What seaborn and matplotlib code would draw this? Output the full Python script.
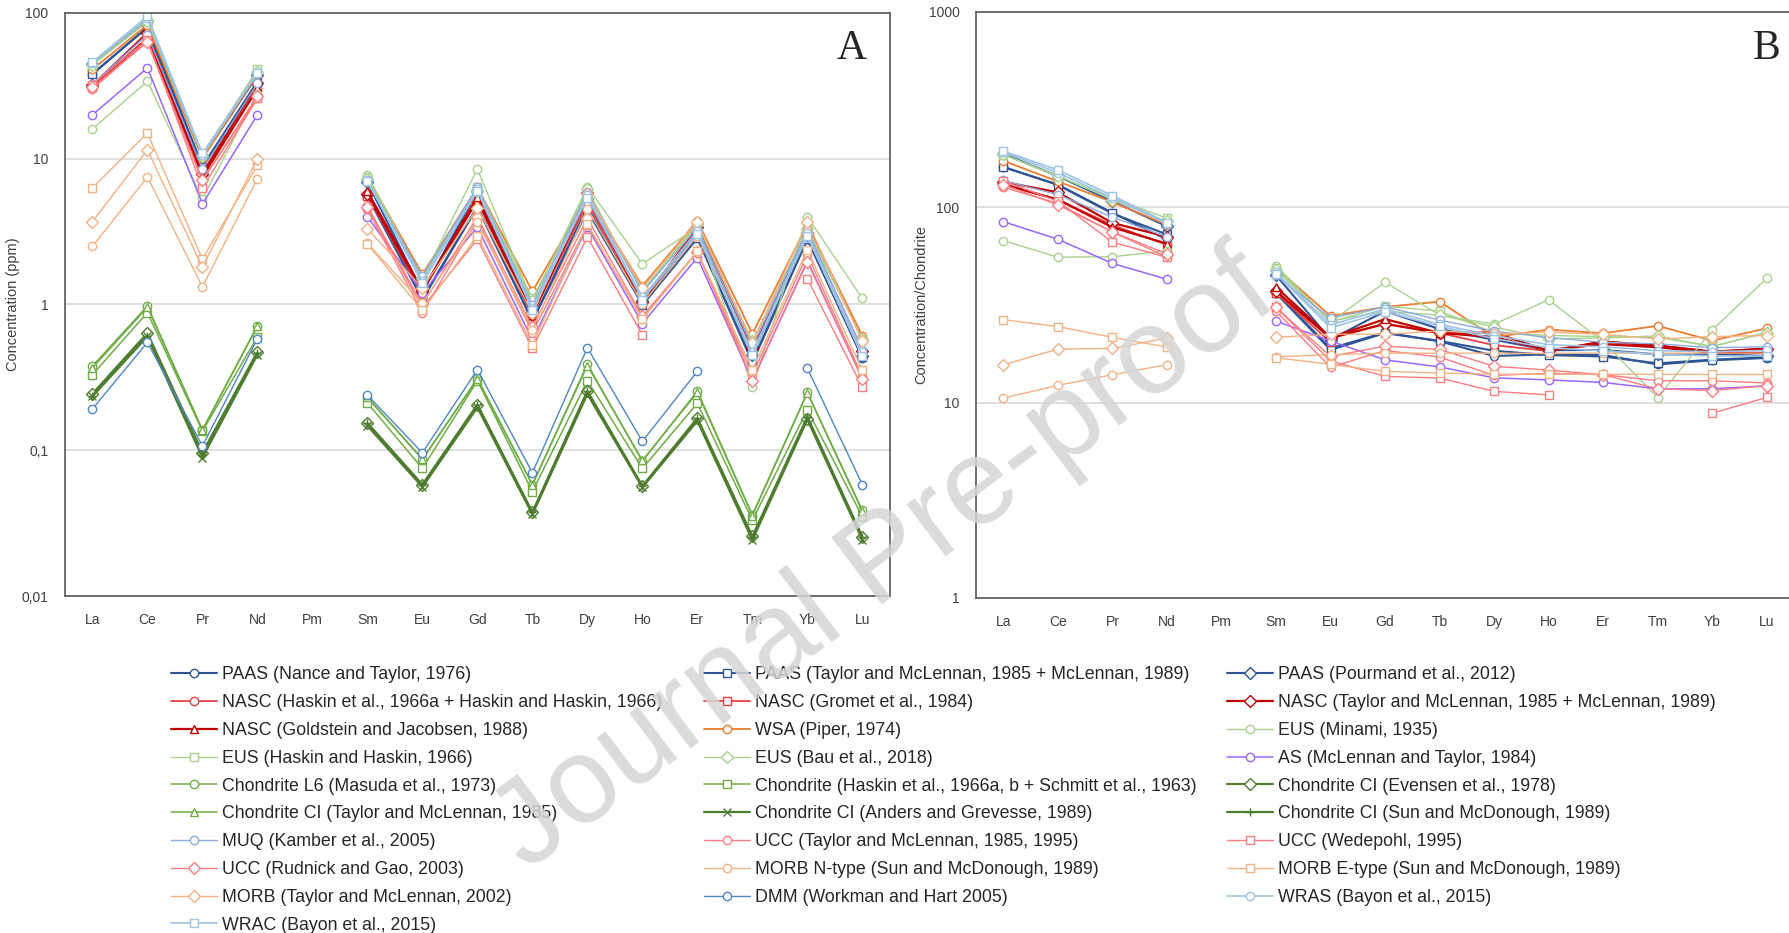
import numpy as np
import pandas as pd
import matplotlib
matplotlib.use('Agg')
import matplotlib.pyplot as plt
from matplotlib.lines import Line2D
from matplotlib.ticker import NullLocator
import seaborn as sns

sns.set_style('white')
plt.rcParams['font.family'] = ['Liberation Sans', 'DejaVu Sans']

n = np.nan
elements = ['La', 'Ce', 'Pr', 'Nd', 'Pm', 'Sm', 'Eu', 'Gd', 'Tb', 'Dy', 'Ho', 'Er', 'Tm', 'Yb', 'Lu']

# concentrations in ppm
paas_nt76 = [38, 80, 8.9, 32, n, 5.6, 1.1, 4.7, 0.77, 4.4, 1.0, 2.9, 0.40, 2.8, 0.43]
paas_tm85 = [38.2, 79.6, 8.83, 33.9, n, 5.55, 1.08, 4.66, 0.774, 4.68, 0.991, 2.85, 0.405, 2.82, 0.433]
paas_p12 = [44.6, 88.3, 10.2, 37.3, n, 6.88, 1.22, 6.04, 0.89, 5.33, 1.05, 3.08, 0.45, 3.01, 0.44]
nasc_h66 = [31, 67, 7.7, 30, n, 5.6, 1.25, 5.2, 0.85, 5.0, 1.04, 3.4, 0.50, 3.1, 0.48]
nasc_g84 = [31.1, 66.7, n, 27.4, n, 5.59, 1.18, n, 0.85, n, n, n, n, 3.06, 0.456]
nasc_tm85 = [32, 73, 7.9, 33, n, 5.7, 1.24, 5.2, 0.85, 5.8, 1.04, 3.4, 0.50, 3.1, 0.48]
nasc_gj88 = [31.1, 67.0, 7.5, 30.4, n, 5.98, 1.25, 5.5, 0.85, 5.5, 1.05, 3.3, 0.49, 3.06, 0.456]
wsa_p74 = [41, 83, 10.1, 38, n, 7.5, 1.61, 6.35, 1.23, 5.5, 1.34, 3.75, 0.63, 3.53, 0.61]
eus_m35 = [16, 34, 5.3, 28, n, 7.7, 1.5, 8.5, 1.05, 6.4, 1.9, 3.4, 0.27, 4.0, 1.1]
eus_hh66 = [44, 88, 10.6, 41, n, 7.5, 1.5, 6.4, 1.1, 5.8, 1.25, 3.6, 0.55, 3.3, 0.58]
eus_b18 = [44.3, 88.5, 10.4, 39.5, n, 7.3, 1.52, 6.03, 1.05, 6.2, 1.2, 3.55, 0.56, 3.29, 0.58]
as_mt84 = [20, 42, 4.9, 20, n, 4.0, 1.2, 3.4, 0.57, 3.4, 0.74, 2.1, 0.30, 2.0, 0.31]
ch_masuda = [0.378, 0.976, 0.138, 0.716, n, 0.230, 0.0866, 0.311, 0.058, 0.390, 0.084, 0.255, 0.036, 0.249, 0.0387]
ch_haskin = [0.330, 0.88, 0.135, 0.60, n, 0.211, 0.075, 0.30, 0.052, 0.30, 0.075, 0.21, 0.033, 0.19, 0.035]
ch_evensen = [0.2446, 0.6379, 0.0964, 0.4738, n, 0.154, 0.058, 0.2043, 0.0375, 0.2541, 0.0567, 0.166, 0.0256, 0.1651, 0.0254]
ch_tm85 = [0.367, 0.957, 0.137, 0.711, n, 0.231, 0.087, 0.306, 0.058, 0.381, 0.0851, 0.249, 0.0356, 0.248, 0.0381]
ch_ag89 = [0.2347, 0.6032, 0.0891, 0.4524, n, 0.1471, 0.056, 0.1966, 0.0363, 0.2427, 0.0556, 0.1589, 0.0242, 0.1625, 0.0243]
ch_sm89 = [0.237, 0.612, 0.095, 0.467, n, 0.153, 0.058, 0.2055, 0.0374, 0.254, 0.0566, 0.1655, 0.0255, 0.170, 0.0254]
muq_k05 = [32.5, 71.1, 8.46, 32.9, n, 6.88, 1.57, 6.36, 0.99, 5.89, 1.22, 3.37, 0.51, 3.25, 0.49]
ucc_tm85 = [30, 64, 7.1, 26, n, 4.5, 0.88, 3.8, 0.64, 3.5, 0.80, 2.3, 0.33, 2.2, 0.32]
ucc_w95 = [32.3, 65.7, 6.3, 25.9, n, 4.7, 0.95, 2.8, 0.50, 2.9, 0.62, n, n, 1.5, 0.27]
ucc_rg03 = [31, 63, 7.1, 27, n, 4.7, 1.0, 4.0, 0.7, 3.9, 0.83, 2.3, 0.30, 1.96, 0.31]
morb_n = [2.5, 7.5, 1.32, 7.3, n, 2.63, 1.02, 3.68, 0.67, 4.55, 1.01, 2.97, 0.456, 3.05, 0.455]
morb_e = [6.3, 15, 2.05, 9.0, n, 2.6, 0.91, 2.97, 0.53, 3.55, 0.79, 2.31, 0.356, 2.37, 0.354]
morb_tm02 = [3.7, 11.5, 1.8, 10, n, 3.3, 1.3, 4.6, 0.87, 5.7, 1.3, 3.7, 0.54, 3.7, 0.56]
dmm_wh05 = [0.192, 0.550, 0.107, 0.581, n, 0.239, 0.096, 0.358, 0.070, 0.505, 0.115, 0.348, n, 0.365, 0.058]
wras_b15 = [45.5, 92, 10.6, 38.5, n, 7.1, 1.45, 6.2, 0.94, 5.6, 1.12, 3.2, 0.47, 3.1, 0.47]
wrac_b15 = [46, 95, 10.9, 39, n, 7.0, 1.4, 6.0, 0.92, 5.4, 1.08, 3.05, 0.45, 2.95, 0.44]

names = [
    'PAAS (Nance and Taylor, 1976)',
    'PAAS (Taylor and McLennan, 1985 + McLennan, 1989)',
    'PAAS (Pourmand et al., 2012)',
    'NASC (Haskin et al., 1966a + Haskin and Haskin, 1966)',
    'NASC (Gromet et al., 1984)',
    'NASC (Taylor and McLennan, 1985 + McLennan, 1989)',
    'NASC (Goldstein and Jacobsen, 1988)',
    'WSA (Piper, 1974)',
    'EUS (Minami, 1935)',
    'EUS (Haskin and Haskin, 1966)',
    'EUS (Bau et al., 2018)',
    'AS (McLennan and Taylor, 1984)',
    'Chondrite L6 (Masuda et al., 1973)',
    'Chondrite (Haskin et al., 1966a, b + Schmitt et al., 1963)',
    'Chondrite CI (Evensen et al., 1978)',
    'Chondrite CI (Taylor and McLennan, 1985)',
    'Chondrite CI (Anders and Grevesse, 1989)',
    'Chondrite CI (Sun and McDonough, 1989)',
    'MUQ (Kamber et al., 2005)',
    'UCC (Taylor and McLennan, 1985, 1995)',
    'UCC (Wedepohl, 1995)',
    'UCC (Rudnick and Gao, 2003)',
    'MORB N-type (Sun and McDonough, 1989)',
    'MORB E-type (Sun and McDonough, 1989)',
    'MORB (Taylor and McLennan, 2002)',
    'DMM (Workman and Hart 2005)',
    'WRAS (Bayon et al., 2015)',
    'WRAC (Bayon et al., 2015)',
]
values = [paas_nt76, paas_tm85, paas_p12, nasc_h66, nasc_g84, nasc_tm85, nasc_gj88,
          wsa_p74, eus_m35, eus_hh66, eus_b18, as_mt84, ch_masuda, ch_haskin,
          ch_evensen, ch_tm85, ch_ag89, ch_sm89, muq_k05, ucc_tm85, ucc_w95,
          ucc_rg03, morb_n, morb_e, morb_tm02, dmm_wh05, wras_b15, wrac_b15]

blue, red, dred, orange = '#2F5597', '#E8403F', '#C00000', '#ED7D31'
lgreen, green, dgreen = '#A9D18E', '#70AD47', '#4E7D30'
purple, muq, pink, peach = '#9966FF', '#8FAADC', '#FF7C80', '#F4B183'
dmm, lblue = '#4F86C6', '#9DC3E6'
colors = [blue, blue, blue, red, red, dred, dred, orange, lgreen, lgreen, lgreen, purple,
          green, green, dgreen, green, dgreen, dgreen, muq, pink, pink, pink,
          peach, peach, peach, dmm, lblue, lblue]
markers = ['o', 's', 'D', 'o', 's', 'D', '^', 'o', 'o', 's', 'D', 'o',
           'o', 's', 'D', '^', 'x', '+', 'o', 'o', 's', 'D',
           'o', 's', 'D', 'o', 'o', 's']
widths = [1.5, 1.5, 1.5, 1.3, 1.3, 1.6, 1.6, 1.3, 1.0, 1.0, 1.0, 1.1,
          1.1, 1.1, 1.5, 1.1, 1.6, 1.6, 1.0, 1.0, 1.0, 1.0,
          1.0, 1.0, 1.0, 1.0, 1.2, 1.2]
# panel B shows the sediments / crust / MORB only, normalised to CI chondrite
not_in_b = {12, 13, 14, 15, 16, 17, 25}


def segments(name, vals):
    rows, seg, gap = [], 0, True
    for i, v in enumerate(vals):
        if np.isnan(v):
            gap = True
            continue
        if gap:
            seg += 1
            gap = False
        rows.append({'series': name, 'pos': i, 'val': v, 'seg': seg})
    return pd.DataFrame(rows)


fig = plt.figure(figsize=(17.89, 9.33), dpi=100)
axA = fig.add_axes([0.0363, 0.3612, 0.4611, 0.6249])
axB = fig.add_axes([0.5456, 0.3591, 0.4572, 0.6281])

chondrite = np.array(ch_sm89)
handles = []
for k, (name, vals) in enumerate(zip(names, values)):
    c, m, w = colors[k], markers[k], widths[k]
    style = dict(color=c, marker=m, markerfacecolor='white', markeredgecolor=c,
                 markeredgewidth=1.0, markersize=6, linewidth=w)
    sns.lineplot(data=segments(name, vals), x='pos', y='val', units='seg',
                 estimator=None, legend=False, ax=axA, **style)
    if k not in not_in_b:
        normed = np.array(vals) / chondrite
        sns.lineplot(data=segments(name, normed), x='pos', y='val', units='seg',
                     estimator=None, legend=False, ax=axB, **style)
    handles.append(Line2D([], [], **style))

for ax, ylim, ticks, labels, ylabel, lx in [
        (axA, (0.01, 100), [0.01, 0.1, 1, 10, 100], ['0,01', '0,1', '1', '10', '100'],
         'Concentration (ppm)', -0.054),
        (axB, (1, 1000), [1, 10, 100, 1000], ['1', '10', '100', '1000'],
         'Concentration/Chondrite', -0.059)]:
    ax.set_yscale('log')
    ax.set_ylim(*ylim)
    ax.set_yticks(ticks, labels)
    ax.yaxis.set_minor_locator(NullLocator())
    ax.set_xlim(-0.5, 14.5)
    ax.set_xticks(range(len(elements)), elements)
    ax.tick_params(length=0, labelsize=10, colors='#404040', pad=12)
    ax.yaxis.grid(True, color='#D9D9D9', linewidth=1.2)
    ax.set_axisbelow(True)
    ax.set_xlabel('')
    ax.set_ylabel(ylabel, fontsize=10.5, color='#404040')
    ax.yaxis.set_label_coords(lx, 0.5)
    for sp in ax.spines.values():
        sp.set_color('#595959')
        sp.set_linewidth(1.2)

axA.text(0.972, 0.938, 'A', transform=axA.transAxes, ha='right', va='center',
         fontsize=30, family='Liberation Serif')
axB.text(0.983, 0.938, 'B', transform=axB.transAxes, ha='right', va='center',
         fontsize=30, family='Liberation Serif')

# legend: three columns, read row by row
col_x = [0.0956, 0.3935, 0.6859]
for j in range(3):
    idx = list(range(j, len(names), 3))
    fig.legend([handles[i] for i in idx], [names[i] for i in idx],
               loc='upper left', bbox_to_anchor=(col_x[j], 0.2857),
               frameon=False, fontsize=12.75, handlelength=2.6, handletextpad=0.3,
               labelspacing=0.61, borderpad=0, borderaxespad=0, labelcolor='#262626')

fig.text(885 / 1789, 1 - 562 / 933, 'Journal Pre-proof', rotation=37,
         rotation_mode='anchor', ha='center', va='center', fontsize=88,
         color='#D5D5D5', alpha=0.85, zorder=20)

fig.savefig('out.png', dpi=100)
